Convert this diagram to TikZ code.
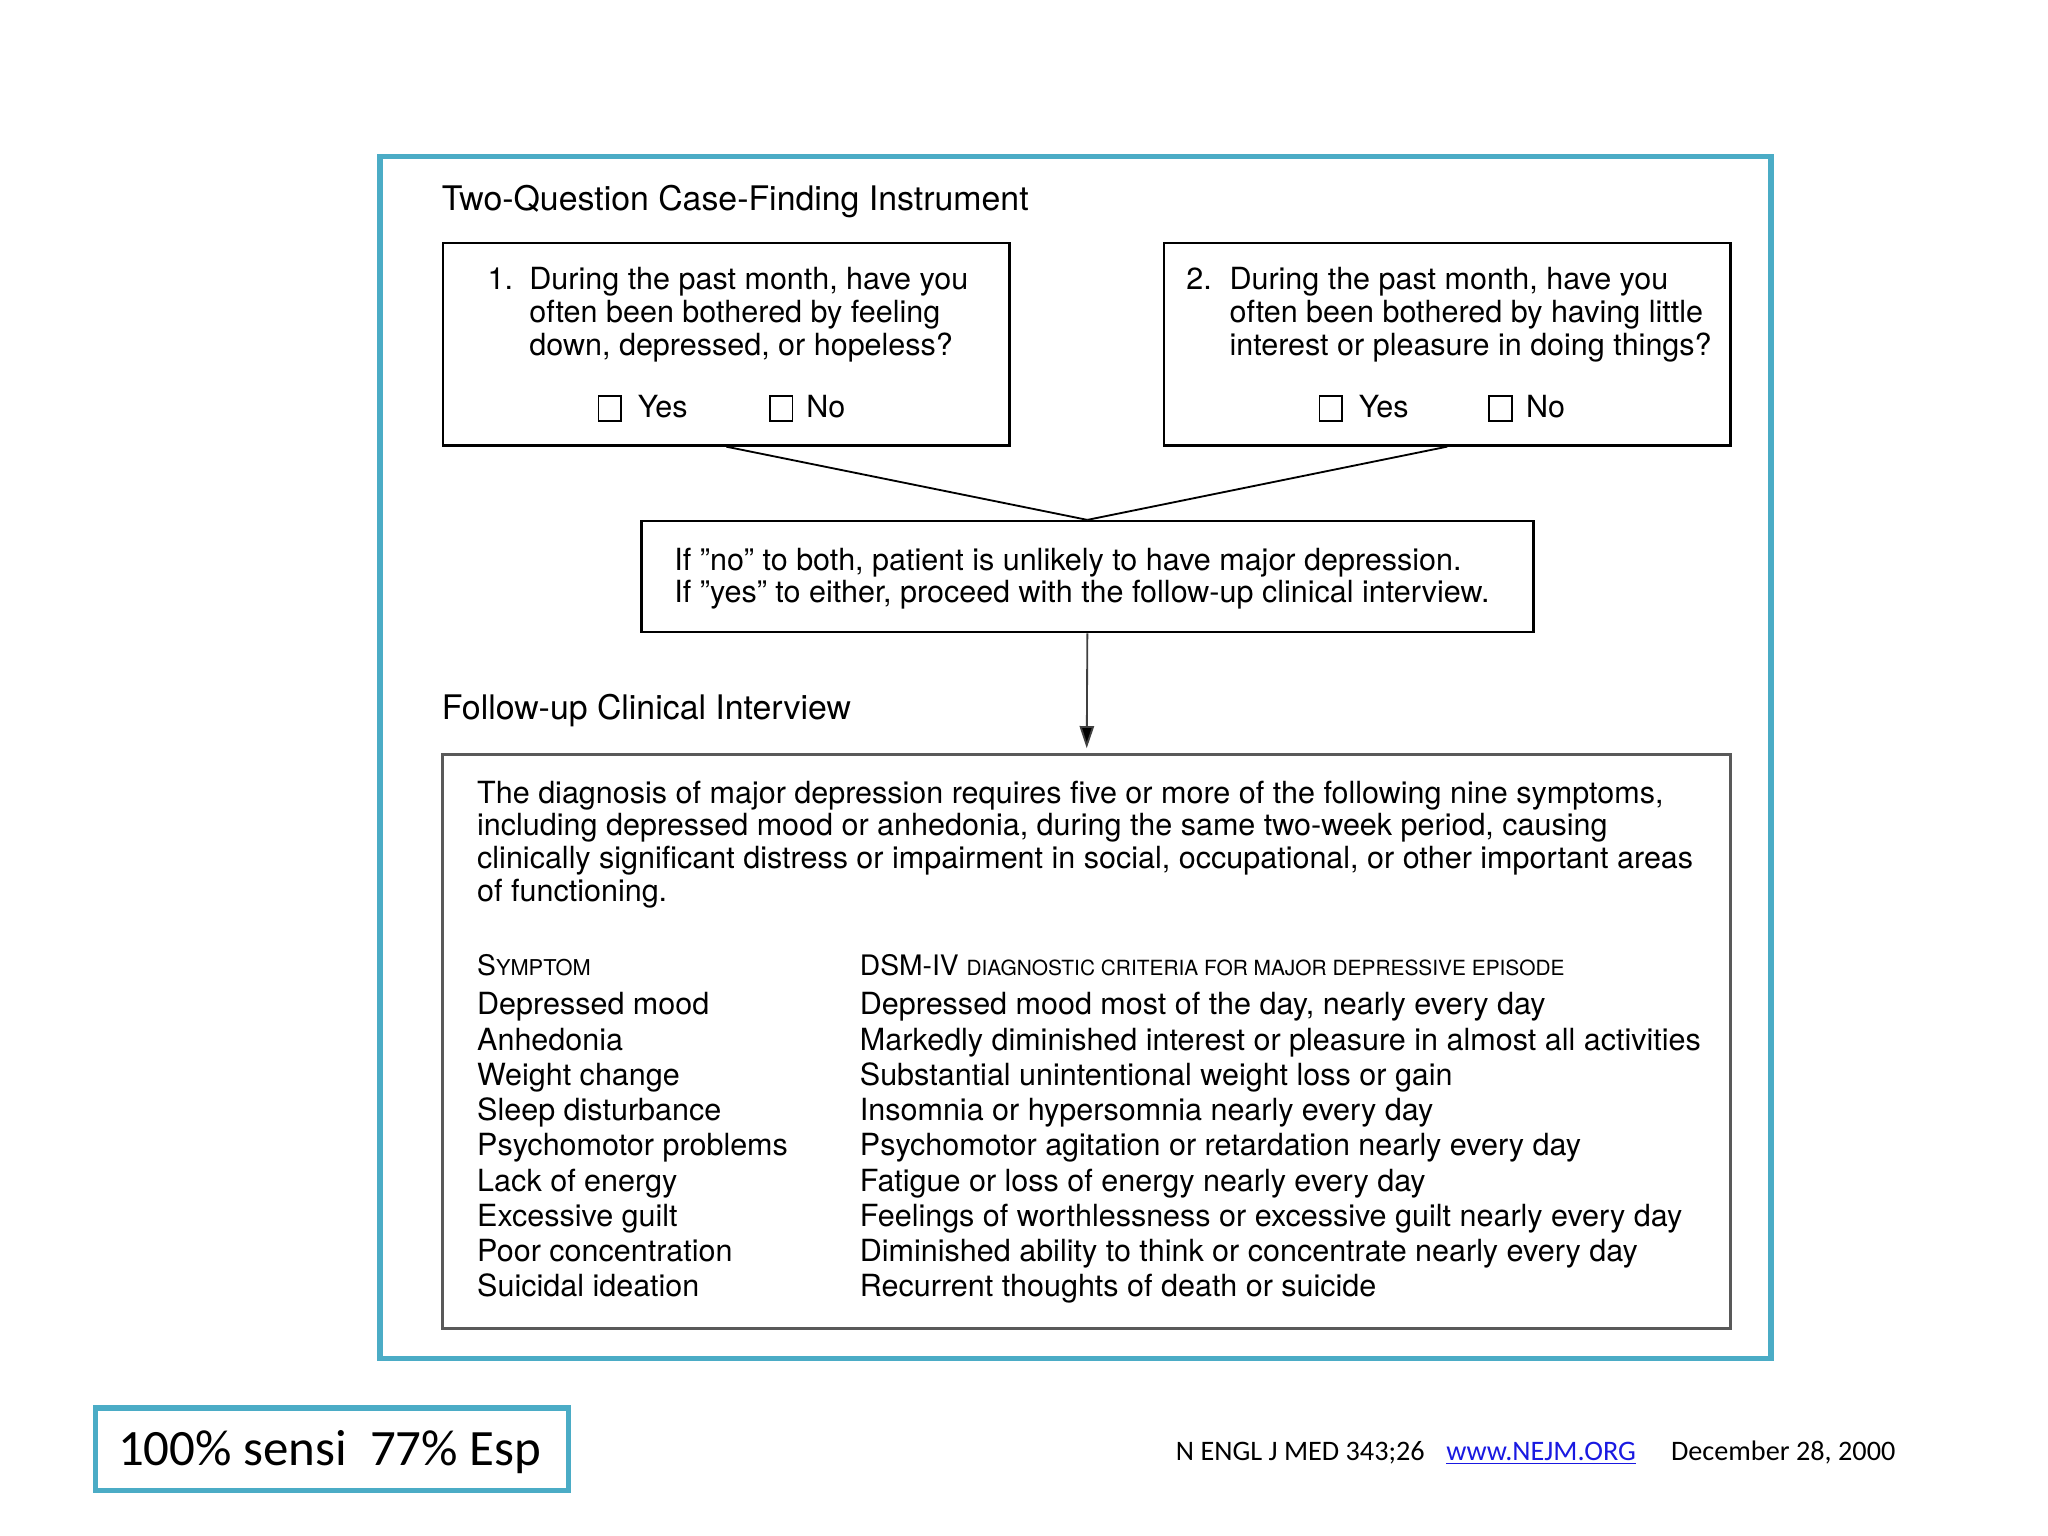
\documentclass[tikz,border=0pt]{standalone}
\usepackage{fontspec}
\setmainfont{TeX Gyre Heros}
\newfontfamily\calibri{Carlito}
\usetikzlibrary{arrows.meta,positioning,fit}
\definecolor{frameteal}{RGB}{75,172,198}
\definecolor{linkblue}{RGB}{25,25,225}

\begin{document}
\begin{tikzpicture}[x=0.02cm, y=-0.02cm,
  txt/.style={anchor=base west, inner sep=0pt, font=\fontsize{13.3}{15}\selectfont},
  head/.style={anchor=base west, inner sep=0pt, font=\fontsize{14.75}{17}\selectfont},
  qbox/.style={draw, line width=1.1pt, inner sep=0pt},
  tick/.style={draw, line width=0.8pt, minimum width=0.35cm, minimum height=0.38cm, inner sep=0pt},
  frame/.style={draw=frameteal, line width=2.3pt, inner sep=0pt},
  note/.style={anchor=base west, inner sep=0pt, font=\calibri\fontsize{12.3}{14}\selectfont}
  ]
  \useasboundingbox (0,0) rectangle (1568,1176);

  % outer frame and titles
  \node[frame, fit={(291,120) (1356,1040)}] (frame) {};
  \node[head] (title) at (338,161) {Two-Question Case-Finding Instrument};
  \node[head] (follow) at (338,551) {Follow-up Clinical Interview};

  % the two questions
  \node[qbox, fit={(339,186) (773,341)}] (q1) {};
  \node[qbox, fit={(891,186) (1325,341)}] (q2) {};

  \node[txt] (n1) at (373,222) {1.};
  \foreach \t [count=\i] in {{During the past month, have you},
      {often been bothered by feeling}, {down, depressed, or hopeless?}}
    \node[txt] (q1l\i) at (405,{222+(\i-1)*25}) {\t};

  \node[txt] (n2) at (908,222) {2.};
  \foreach \t [count=\i] in {{During the past month, have you},
      {often been bothered by having little}, {interest or pleasure in doing things?}}
    \node[txt] (q2l\i) at (941,{222+(\i-1)*25}) {\t};

  \node[tick] (y1) at (467,313) {};
  \node[txt] (y1t) at (488,320) {Yes};
  \node[tick] (no1) at (598,313) {};
  \node[txt] (no1t) at (617,320) {No};
  \node[tick] (y2) at (1019,313) {};
  \node[txt] (y2t) at (1040,320) {Yes};
  \node[tick] (no2) at (1149,313) {};
  \node[txt] (no2t) at (1168,320) {No};

  % decision
  \node[qbox, fit={(491,399) (1174,484)}] (mid) {};
  \node[txt] (m1) at (516,437) {If ”no” to both, patient is unlikely to have major depression.};
  \node[txt] (m2) at (516,461) {If ”yes” to either, proceed with the follow-up clinical interview.};

  % interview
  \node[qbox, draw=black!65, line width=1.3pt, fit={(339,578) (1325,1017)}] (big) {};
  \foreach \t [count=\i] in {{The diagnosis of major depression requires five or more of the following nine symptoms,},
      {including depressed mood or anhedonia, during the same two-week period, causing},
      {clinically significant distress or impairment in social, occupational, or other important areas},
      {of functioning.}}
    \node[txt] (p\i) at (365,{615+(\i-1)*25}) {\t};

  \node[txt] (hsym) at (365,747) {\fontsize{12.3}{14}\selectfont S\fontsize{9.5}{10}\selectfont YMPTOM};
  \node[txt] (hdsm) at (658,747) {\fontsize{12.3}{14}\selectfont DSM-IV \fontsize{9.1}{10}\selectfont DIAGNOSTIC CRITERIA FOR MAJOR DEPRESSIVE EPISODE};

  \foreach \sym/\crit [count=\i] in {
      Depressed mood/{Depressed mood most of the day, nearly every day},
      Anhedonia/{Markedly diminished interest or pleasure in almost all activities},
      Weight change/{Substantial unintentional weight loss or gain},
      Sleep disturbance/{Insomnia or hypersomnia nearly every day},
      Psychomotor problems/{Psychomotor agitation or retardation nearly every day},
      Lack of energy/{Fatigue or loss of energy nearly every day},
      Excessive guilt/{Feelings of worthlessness or excessive guilt nearly every day},
      Poor concentration/{Diminished ability to think or concentrate nearly every day},
      Suicidal ideation/{Recurrent thoughts of death or suicide}}
  {
    \node[txt] (s\i) at (365,{777+(\i-1)*27}) {\sym};
    \node[txt] (c\i) at (658,{777+(\i-1)*27}) {\crit};
  }

  % connectors
  \draw[line width=0.8pt] (q1.south) -- (mid.north);
  \draw[line width=0.8pt] (q2.south) -- (mid.north);
  \draw[line width=0.8pt, black!75, -{Triangle[length=0.34cm, width=0.22cm, fill=black]}, shorten >=0.08cm] (mid.south) -- (big.north);

  % footer
  \node[frame, line width=2.2pt, fit={(73,1078) (435,1141)}] (score) {};
  \node[anchor=base west, inner sep=0pt, font=\calibri\fontsize{22.2}{26}\selectfont] (scoret) at (90,1122) {100\% sensi\ \ 77\% Esp};
  \node[note] (ref) at (900,1118) {N ENGL J MED 343;26};
  \node[note, text=linkblue] (url) at (1107,1118) {\underline{www.NEJM.ORG}};
  \node[note] (date) at (1279,1118) {December 28, 2000};
\end{tikzpicture}
\end{document}
